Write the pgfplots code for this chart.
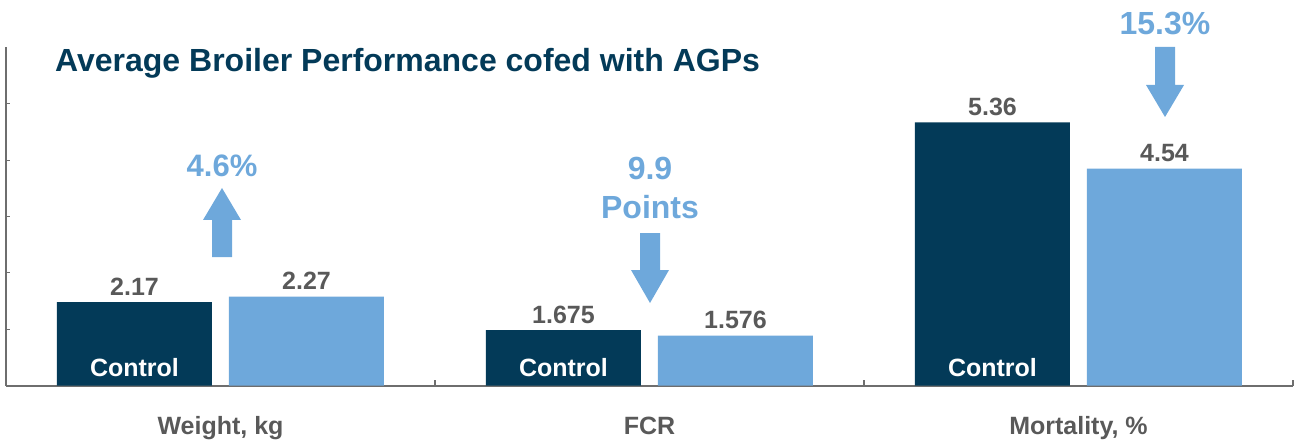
\documentclass[border=0pt]{standalone}
\usepackage{fontspec}
\setmainfont{Liberation Sans}
\usepackage{pgfplots}
\pgfplotsset{compat=1.18}
\definecolor{navy}{HTML}{033A58}
\definecolor{lblue}{HTML}{6EA8DB}
\definecolor{txtgray}{HTML}{595959}
\definecolor{axgray}{HTML}{6E6E6E}
\begin{document}
\begin{tikzpicture}
\begin{axis}[
  scale only axis, width=1287pt, height=338.5pt,
  xmin=-0.5, xmax=2.5, ymin=0.69, ymax=6.7,
  axis x line*=bottom, axis y line*=left,
  axis line style={axgray, line width=2pt},
  ybar, bar width=155pt,
  xtick={0,1,2}, xticklabels={{Weight, kg},FCR,{Mortality, \%}},
  major x tick style={draw=none},
  xticklabel style={anchor=base, yshift=-49pt, font=\fontsize{25}{30}\selectfont\bfseries, text=txtgray},
  extra x ticks={0.5,1.5,2.5}, extra x tick labels={},
  extra x tick style={major x tick style={draw=axgray, line width=1.5pt}, major tick length=6pt},
  ytick={1.69,2.69,3.69,4.69,5.69}, yticklabels={},
  ytick style={axgray, line width=1.2pt}, tick align=inside, major tick length=4pt,
  nodes near coords, point meta=explicit symbolic,
  every node near coord/.append style={font=\fontsize{25}{30}\selectfont\bfseries, text=txtgray, anchor=base, yshift=7pt, inner sep=0pt},
]
\addplot[fill=navy, draw=none, bar shift=-86pt] coordinates {(0,2.17) [2.17] (1,1.675) [1.675] (2,5.36) [5.36]};
\addplot[fill=lblue, draw=none, bar shift=86pt] coordinates {(0,2.27) [2.27] (1,1.576) [1.576] (2,4.54) [4.54]};
\foreach \g in {0,1,2} {
  \edef\tmp{\noexpand\node[anchor=base, text=white, font=\noexpand\fontsize{25}{30}\noexpand\selectfont\noexpand\bfseries, xshift=-86pt, yshift=9.5pt] at (axis cs:\g,0.69) {Control};}
  \tmp
}
\coordinate (bl) at (rel axis cs:0,0);
\end{axis}
\begin{scope}[shift={(bl)}, xshift=-6pt, yshift=385.5pt, x=1pt, y=-1pt]
  \node[anchor=base west, text=navy, font=\fontsize{32}{38}\selectfont\bfseries, inner sep=0pt] at (55,72) {Average Broiler Performance cofed with AGPs};
  % weight
  \fill[lblue] (212,257)--(212,220)--(203,220)--(222,188)--(241,220)--(232,220)--(232,257)--cycle;
  \node[anchor=base, text=lblue, font=\fontsize{31}{36}\selectfont\bfseries, inner sep=0pt] at (222,177) {4.6\%};
  % FCR
  \fill[lblue] (640,233)--(660,233)--(660,270)--(669,270)--(650,303)--(631,270)--(640,270)--cycle;
  \node[anchor=base, text=lblue, font=\fontsize{32}{38}\selectfont\bfseries, inner sep=0pt] at (650,180) {9.9};
  \node[anchor=base, text=lblue, font=\fontsize{32}{38}\selectfont\bfseries, inner sep=0pt] at (650,218) {Points};
  % Mortality
  \fill[lblue] (1155,47)--(1175,47)--(1175,85)--(1184,85)--(1165,117)--(1146,85)--(1155,85)--cycle;
  \node[anchor=base, text=lblue, font=\fontsize{32}{38}\selectfont\bfseries, inner sep=0pt] at (1165,35) {15.3\%};
\end{scope}
\pgfresetboundingbox
\path[use as bounding box] (bl) ++(-6pt,-56.5pt) rectangle ++(1297pt,442pt);
\end{tikzpicture}
\end{document}
